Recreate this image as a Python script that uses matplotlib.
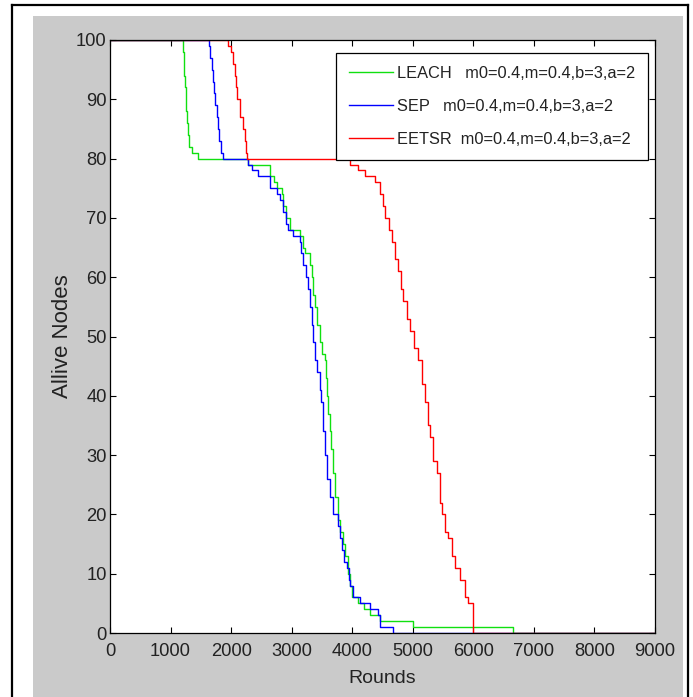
import matplotlib
matplotlib.use("Agg")
import matplotlib.pyplot as plt
from matplotlib.patches import Rectangle
from matplotlib.lines import Line2D

# ---------------- data (rounds at which alive count changes, alive count after) -----
leach_rounds = [0, 1200, 1215, 1225, 1235, 1250, 1260, 1270, 1285, 1310, 1350, 1450,
                2280, 2640, 2700, 2760, 2840, 2850, 2900, 2970, 3140, 3180, 3220, 3300,
                3330, 3360, 3385, 3420, 3468, 3500, 3550, 3570, 3583, 3600, 3632, 3650,
                3682, 3720, 3765, 3800, 3847, 3880, 3930, 3960, 3996, 4095, 4200, 4293,
                4458, 5003, 6650, 9000]
leach_alive = [100, 98, 96, 94, 92, 90, 88, 86, 84, 82, 81, 80,
               79, 77, 76, 75, 74, 72, 70, 68, 67, 65, 64, 62,
               60, 57, 55, 52, 49, 47, 46, 43, 40, 37, 34, 31,
               27, 23, 19, 17, 15, 13, 10, 8, 6, 5, 4, 3,
               2, 1, 0, 0]

sep_rounds = [0, 1630, 1650, 1680, 1700, 1720, 1740, 1760, 1780, 1800, 1830, 1860,
              2280, 2345, 2444, 2642, 2757, 2800, 2857, 2900, 2939, 3022, 3138, 3160,
              3187, 3230, 3270, 3300, 3336, 3360, 3385, 3420, 3468, 3490, 3517, 3550,
              3583, 3630, 3682, 3765, 3800, 3831, 3870, 3913, 3940, 3963, 4012, 4128,
              4293, 4425, 4458, 4673, 9000]
sep_alive = [100, 99, 97, 95, 93, 91, 89, 87, 85, 83, 81, 80,
             79, 78, 77, 75, 74, 73, 71, 69, 68, 67, 66, 64,
             62, 60, 58, 55, 52, 49, 46, 44, 41, 39, 34, 30,
             26, 23, 20, 18, 16, 14, 12, 11, 9, 8, 6, 5,
             4, 3, 1, 0, 0]

eetsr_rounds = [0, 1950, 2000, 2030, 2060, 2080, 2100, 2150, 2200, 2230, 2250, 2265,
                3963, 4100, 4210, 4380, 4460, 4500, 4540, 4600, 4660, 4710, 4760, 4800,
                4840, 4900, 4950, 5020, 5090, 5150, 5200, 5250, 5280, 5330, 5400, 5450,
                5480, 5530, 5580, 5650, 5700, 5780, 5860, 5910, 5990, 9000]
eetsr_alive = [100, 99, 98, 96, 94, 92, 90, 87, 85, 83, 81, 80,
               79, 78, 77, 76, 74, 72, 70, 68, 66, 63, 61, 58,
               56, 53, 51, 48, 46, 42, 39, 35, 33, 29, 27, 22,
               20, 17, 16, 13, 11, 9, 6, 5, 0, 0]

series_labels = ["LEACH   m0=0.4,m=0.4,b=3,a=2",
                 "SEP   m0=0.4,m=0.4,b=3,a=2",
                 "EETSR  m0=0.4,m=0.4,b=3,a=2"]
x_ticks = [0, 1000, 2000, 3000, 4000, 5000, 6000, 7000, 8000, 9000]
y_ticks = [0, 10, 20, 30, 40, 50, 60, 70, 80, 90, 100]

# ---------------- figure -----------------------------------------------------------
W, H = 693, 697
fig = plt.figure(figsize=(W / 100, H / 100), dpi=100, facecolor="white")

font = ["Liberation Sans", "DejaVu Sans"]

# grey MATLAB figure background and outer black frame
fig.patches.append(Rectangle((33 / W, 0), (683 - 33) / W, (H - 16) / H,
                             transform=fig.transFigure, facecolor="#cacaca",
                             edgecolor="none", zorder=-10))
for xs, ys in [([12 / W, 12 / W], [0, (H - 5) / H]),
               ([12 / W, 688 / W], [(H - 5) / H, (H - 5) / H]),
               ([688 / W, 688 / W], [0, (H - 5) / H])]:
    fig.add_artist(Line2D(xs, ys, transform=fig.transFigure, color="black", lw=1.6,
                          zorder=-5))

ax = fig.add_axes([110 / W, (H - 633) / H, 545 / W, 593 / H])
ax.set_zorder(5)
ax.set_facecolor("white")

ax.step(leach_rounds, leach_alive, where="post", color="#10e010", lw=1.0, label=series_labels[0])
ax.step(sep_rounds, sep_alive, where="post", color="#0000ff", lw=1.0, label=series_labels[1])
ax.step(eetsr_rounds, eetsr_alive, where="post", color="#ff0000", lw=1.0, label=series_labels[2])

ax.set_xlim(0, 9000)
ax.set_ylim(0, 100)
ax.set_xticks(x_ticks)
ax.set_yticks(y_ticks)
ax.tick_params(direction="in", length=4, width=0.8, top=True, right=True,
               labelsize=13.2, colors="black")
ax.tick_params(axis="x", pad=7)
ax.tick_params(axis="y", pad=2.5)
for lab in ax.get_xticklabels() + ax.get_yticklabels():
    lab.set_family(font)
    lab.set_color("#222222")
for sp in ax.spines.values():
    sp.set_linewidth(0.9)
    sp.set_color("black")

ax.set_xlabel("Rounds", family=font, fontsize=14, color="#222222")
ax.xaxis.set_label_coords(0.5, -0.062)
ax.set_ylabel("Allive Nodes", family=font, fontsize=16, color="#222222")
ax.yaxis.set_label_coords(-0.067, 0.5)

leg = ax.legend(loc="upper right", bbox_to_anchor=((648 - 110) / 545, (633 - 53) / 593),
                borderaxespad=0, prop={"family": font, "size": 11.8},
                fancybox=False, framealpha=1, edgecolor="black",
                handlelength=2.7, handletextpad=0.2, labelspacing=1.08, borderpad=0.8)
leg.get_frame().set_linewidth(0.9)
for t in leg.get_texts():
    t.set_color("#222222")

fig.savefig("out.png", dpi=100, facecolor="white")
